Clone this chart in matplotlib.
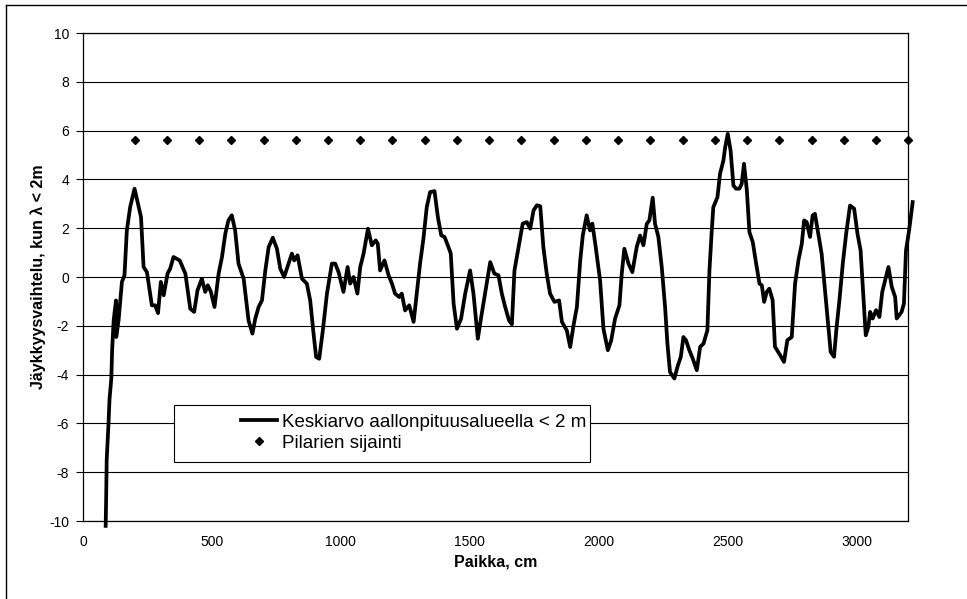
import matplotlib.pyplot as plt
import numpy as np
from matplotlib.lines import Line2D
from matplotlib.patches import Rectangle

plt.rcParams['font.family'] = ['Liberation Sans', 'DejaVu Sans']
plt.rcParams['axes.unicode_minus'] = False

# mean stiffness variation along the deck (wavelength band < 2 m)
paikka = [88, 90, 92, 99, 103, 110, 113, 119, 128, 129, 138, 151, 161, 170, 183, 200,
          216, 225, 235, 248, 267, 280, 291, 302, 313, 328, 338, 351, 375, 397, 416, 431,
          444, 461, 474, 484, 496, 510, 526, 539, 552, 564, 577, 590, 603, 623, 642, 657,
          668, 681, 694, 707, 720, 736, 752, 765, 780, 797, 810, 819, 832, 849, 868, 881,
          894, 904, 916, 930, 946, 965, 978, 991, 1010, 1026, 1036, 1049, 1064, 1075, 1088,
          1105, 1120, 1135, 1143, 1152, 1169, 1185, 1198, 1210, 1226, 1236, 1249, 1265,
          1282, 1294, 1307, 1320, 1333, 1346, 1363, 1376, 1389, 1402, 1417, 1426, 1437,
          1450, 1466, 1482, 1501, 1514, 1531, 1544, 1559, 1579, 1595, 1611, 1624, 1637,
          1652, 1663, 1673, 1688, 1705, 1721, 1734, 1747, 1760, 1773, 1785, 1798, 1811,
          1828, 1846, 1857, 1876, 1889, 1902, 1915, 1928, 1938, 1953, 1966, 1975, 1988,
          2005, 2018, 2035, 2048, 2063, 2080, 2089, 2099, 2115, 2130, 2147, 2160, 2173,
          2186, 2196, 2209, 2218, 2231, 2244, 2257, 2266, 2276, 2293, 2305, 2318, 2328,
          2338, 2351, 2364, 2380, 2393, 2406, 2421, 2429, 2438, 2444, 2460, 2470, 2483,
          2490, 2500, 2511, 2522, 2532, 2545, 2554, 2563, 2574, 2584, 2597, 2610, 2623,
          2632, 2641, 2651, 2661, 2674, 2683, 2703, 2718, 2731, 2748, 2761, 2774, 2787,
          2796, 2806, 2819, 2829, 2838, 2851, 2864, 2877, 2890, 2899, 2912, 2922, 2933,
          2946, 2959, 2974, 2990, 3003, 3015, 3026, 3035, 3045, 3052, 3062, 3075, 3088,
          3099, 3110, 3123, 3136, 3149, 3155, 3174, 3183, 3191, 3204, 3217]
keskiarvo = [-10.2, -9.0, -7.5, -6.0, -5.0, -4.15, -3.0, -1.78, -0.96, -2.46, -1.78, -0.2,
             0.07, 1.9, 2.87, 3.62, 2.87, 2.46, 0.41, 0.2, -1.16, -1.16, -1.48, -0.2, -0.75,
             0.14, 0.34, 0.82, 0.68, 0.14, -1.3, -1.43, -0.55, -0.07, -0.61, -0.34, -0.61,
             -1.23, 0.14, 0.82, 1.78, 2.32, 2.53, 1.91, 0.55, -0.07, -1.78, -2.32, -1.71,
             -1.23, -0.96, 0.27, 1.23, 1.61, 1.16, 0.34, 0.0, 0.55, 0.96, 0.68, 0.89, -0.07,
             -0.27, -0.96, -2.32, -3.28, -3.35, -2.19, -0.68, 0.55, 0.55, 0.2, -0.61, 0.41,
             -0.27, 0.0, -0.68, 0.41, 0.96, 1.98, 1.3, 1.5, 1.37, 0.27, 0.68, 0.07, -0.27,
             -0.68, -0.82, -0.68, -1.37, -1.16, -1.84, -0.68, 0.55, 1.57, 2.87, 3.48, 3.52,
             2.46, 1.71, 1.64, 1.23, 0.96, -1.09, -2.12, -1.71, -0.68, 0.27, -0.68, -2.53,
             -1.64, -0.68, 0.61, 0.14, 0.07, -0.68, -1.23, -1.78, -1.94, 0.27, 1.16, 2.19,
             2.25, 1.98, 2.73, 2.94, 2.9, 1.23, 0.14, -0.68, -1.02, -0.96, -1.84, -2.19,
             -2.87, -1.98, -1.23, 0.68, 1.71, 2.53, 1.91, 2.19, 1.23, -0.14, -2.12, -3.0,
             -2.6, -1.71, -1.16, 0.14, 1.16, 0.55, 0.2, 1.23, 1.7, 1.3, 2.18, 2.32, 3.25,
             2.18, 1.64, 0.41, -1.23, -2.73, -3.89, -4.16, -3.68, -3.27, -2.46, -2.59, -3.0,
             -3.34, -3.82, -2.86, -2.73, -2.18, 0.27, 1.91, 2.86, 3.27, 4.23, 4.77, 5.32,
             5.87, 5.18, 3.75, 3.62, 3.62, 3.82, 4.64, 3.55, 1.84, 1.43, 0.55, -0.27, -0.34,
             -1.02, -0.61, -0.48, -0.95, -2.86, -3.2, -3.48, -2.59, -2.46, -0.27, 0.68, 1.36,
             2.32, 2.25, 1.64, 2.52, 2.59, 1.77, 0.95, -0.55, -2.05, -3.07, -3.27, -2.05,
             -0.95, 0.55, 1.77, 2.93, 2.8, 1.77, 1.09, -0.82, -2.39, -2.05, -1.43, -1.7,
             -1.36, -1.64, -0.61, -0.14, 0.41, -0.41, -0.82, -1.7, -1.43, -1.09, 1.09, 1.98,
             3.07]

# pillar positions
pilarit_x = [200, 325, 450, 575, 700, 825, 950, 1075, 1200, 1325, 1450, 1575, 1700,
             1825, 1950, 2075, 2200, 2325, 2450, 2575, 2700, 2825, 2950, 3075, 3200]
pilarit_y = [5.6] * len(pilarit_x)

fig = plt.figure(figsize=(9.67, 5.99), dpi=100)
ax = fig.add_axes([0.0858, 0.1302, 0.8535, 0.8147])

ax.plot(paikka, keskiarvo, color='black', lw=2.7, clip_on=False, zorder=3,
        solid_joinstyle='round', label='Keskiarvo aallonpituusalueella < 2 m')
ax.plot(pilarit_x, pilarit_y, 'D', color='black', ms=3.8, ls='none', clip_on=False,
        zorder=3, label='Pilarien sijainti')

ax.set_xlim(0, 3200)
ax.set_ylim(-10, 10)
ax.set_xticks(np.arange(0, 3001, 500))
ax.set_yticks(np.arange(-10, 11, 2))
ax.yaxis.grid(True, color='black', lw=0.8)
ax.set_axisbelow(True)
for s in ax.spines.values():
    s.set_linewidth(0.9)
    s.set_color('black')

ax.tick_params(axis='y', length=5, width=0.8, labelsize=10, pad=5)
ax.tick_params(axis='x', length=0, labelsize=10, pad=10)

ax.set_xlabel('Paikka, cm', fontsize=11.5, fontweight='bold', labelpad=4)
ax.set_ylabel('Jäykkyysvaihtelu, kun λ < 2m', fontsize=11.5, fontweight='bold', labelpad=2)

# legend box (Excel style, wide left padding)
ax.add_patch(Rectangle((0.110, 0.121), 0.504, 0.117, transform=ax.transAxes,
                       facecolor='white', edgecolor='black', lw=0.8, zorder=4))
leg = ax.legend(loc='center left', bbox_to_anchor=(0.180, 0.181), frameon=False,
                fontsize=13.5, handlelength=1.9, handletextpad=0.3, labelspacing=0.2,
                borderpad=0, numpoints=1)
leg.set_zorder(5)

# outer chart border (top and left visible)
fig.add_artist(Line2D([0.006, 0.006], [0, 0.992], color='black', lw=1.0))
fig.add_artist(Line2D([0.006, 1.0], [0.992, 0.992], color='black', lw=1.0))

fig.savefig('out.png', dpi=100)
